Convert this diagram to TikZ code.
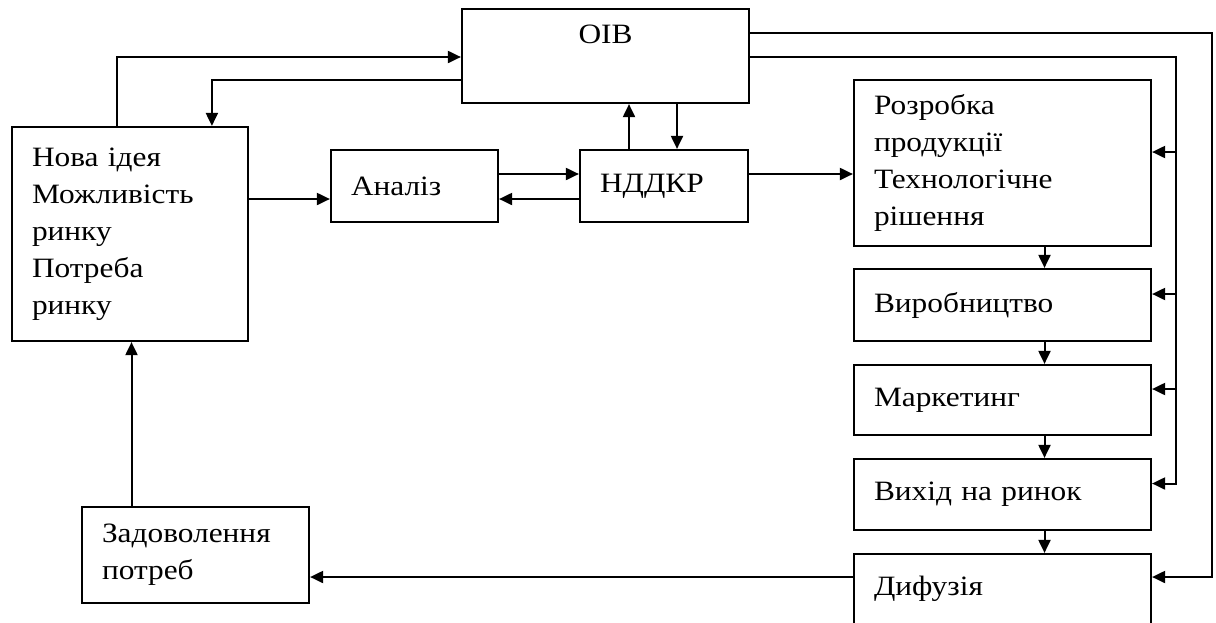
\documentclass[tikz,border=0pt]{standalone}
\usepackage{fontspec}
\setmainfont[FakeStretch=1.12]{Liberation Serif}
\usetikzlibrary{arrows.meta}

\tikzset{
  blk/.style={draw=black, line width=2.2pt, inner xsep=20pt, inner ysep=0pt,
    align=left, font=\fontsize{28}{37}\selectfont},
  arr/.style={line width=2pt, -{Triangle[length=13pt, width=12pt]}},
}

\begin{document}
\begin{tikzpicture}[x=1pt,y=-1pt]
\useasboundingbox (0,0) rectangle (1216,622);
\clip (0,0) rectangle (1216,622);
\node[blk, text width=247pt, minimum height=94pt, align=center] (oib) at (605.5,56) {\raisebox{-4pt}{ОІВ}\\ \strut};
\node[blk, text width=196pt, minimum height=214pt] (nova) at (130,234) {Нова ідея\\Можливість\\ринку\\Потреба\\ринку};
\node[blk, text width=127pt, minimum height=72pt] (analiz) at (414.5,186) {Аналіз};
\node[blk, text width=128pt, minimum height=72pt] (nddkr) at (664,186) {НДДКР};
\node[blk, text width=257pt, minimum height=166pt] (rozr) at (1002.5,163) {Розробка\\продукції\\Технологічне\\рішення};
\node[blk, text width=257pt, minimum height=72pt] (vyrob) at (1002.5,305) {Виробництво};
\node[blk, text width=257pt, minimum height=70pt] (market) at (1002.5,400) {Маркетинг};
\node[blk, text width=257pt, minimum height=71pt] (vykhid) at (1002.5,494.5) {Вихід на ринок};
\node[blk, text width=257pt, minimum height=70pt] (dyfuz) at (1002.5,589) {Дифузія};
\node[blk, text width=187pt, minimum height=96pt] (zadov) at (195.5,555) {Задоволення\\потреб};
% top loop with OIB
\draw[arr] ([xshift=106pt]nova.north west) |- ([yshift=-1pt]oib.west);
\draw[arr] ([yshift=-24pt]oib.west) -| ([xshift=201pt]nova.north west);
% middle row
\coordinate (a1) at ([yshift=-13pt]analiz.west);
\draw[arr] (nova.east |- a1) -- (a1);
\draw[arr] ([yshift=12pt]analiz.east) -- ([yshift=12pt]nddkr.west);
\draw[arr] ([yshift=-13pt]nddkr.west) -- ([yshift=-13pt]analiz.east);
\draw[arr] ([xshift=-35pt]nddkr.north) -- ([xshift=-35pt]nddkr.north |- oib.south);
\draw[arr] ([xshift=13pt]nddkr.north |- oib.south) -- ([xshift=13pt]nddkr.north);
\draw[arr] ([yshift=12pt]nddkr.east) -- ([yshift=12pt]nddkr.east -| rozr.west);
% right column
\draw[arr] ([xshift=42pt]rozr.south) -- ([xshift=42pt]vyrob.north);
\draw[arr] ([xshift=42pt]vyrob.south) -- ([xshift=42pt]market.north);
\draw[arr] ([xshift=42pt]market.south) -- ([xshift=42pt]vykhid.north);
\draw[arr] ([xshift=42pt]vykhid.south) -- ([xshift=42pt]dyfuz.north);
% feedback buses from OIB
\draw[arr] ([yshift=-1pt]oib.east) -| ([xshift=24pt,yshift=11pt]vykhid.east) -- ([yshift=11pt]vykhid.east);
\foreach \b in {rozr,vyrob,market}
  \draw[arr] ([xshift=24pt,yshift=11pt]\b.east) -- ([yshift=11pt]\b.east);
\draw[arr] ([yshift=23pt]oib.east) -| ([xshift=60pt,yshift=12pt]dyfuz.east) -- ([yshift=12pt]dyfuz.east);
% back to the start
\draw[arr] ([yshift=12pt]dyfuz.west) -- ([yshift=12pt]dyfuz.west -| zadov.east);
\draw[arr] ([xshift=-64pt]zadov.north) -- ([xshift=-64pt]zadov.north |- nova.south);
\end{tikzpicture}
\end{document}
